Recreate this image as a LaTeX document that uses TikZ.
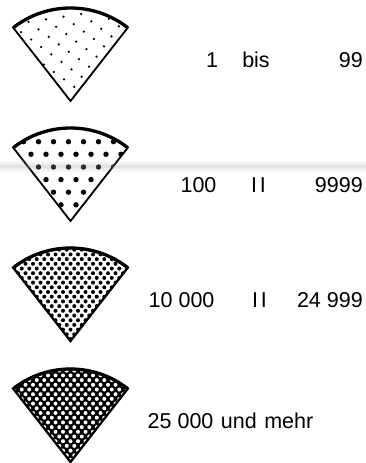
\documentclass[tikz,border=0pt]{standalone}
\usepackage{fontspec}
\setmainfont{Liberation Sans}
\begin{document}
\begin{tikzpicture}[x=1pt,y=-1pt,
  fan/.style={insert path={(70.5,#1) -- ++(232:93) arc[start angle=232,end angle=308,radius=93] -- cycle}},
  rim/.style={insert path={(70.5,#1) ++(232:93) arc[start angle=232,end angle=308,radius=93]}},
  side/.style={line width=1.8pt, line join=miter},
  rimline/.style={line width=3.3pt},
  lbl/.style={font=\fontsize{21.5}{25}\selectfont, inner sep=0pt}]
\useasboundingbox (0,0) rectangle (366,463);

% fan 1: sparse small dots
\begin{scope}
\clip[fan=101];
\foreach \i in {-12,...,12}{\foreach \j in {-12,...,12}{
  \fill ({46+10.1*\i-7.45*\j},{19.3+7.45*\i+10.1*\j}) circle[radius=1.25];}}
\end{scope}
\draw[side, fan=101];
\draw[rimline, rim=101];

% fan 2: coarse big dots
\begin{scope}
\clip[fan=221];
\foreach \y in {141.7,167,192.2}{\foreach \c in {-1,...,7}{
  \fill ({38.5+15*\c},\y) circle[radius=2.7];}}
\foreach \y in {154.3,179.6,204.8}{\foreach \c in {-1,...,7}{
  \fill ({31+15*\c},\y) circle[radius=2.7];}}
\end{scope}
\draw[side, fan=221];
\draw[rimline, rim=221];

% fan 3: dense dots
\begin{scope}
\clip[fan=341];
\foreach \r in {0,...,21}{\foreach \c in {-11,...,11}{
  \pgfmathsetmacro\xx{70.5+7.5*\c+3.75*mod(\r,2)}
  \fill (\xx,{339-4.7*\r}) circle[radius=2];}}
\end{scope}
\draw[side, line width=2.3pt, fan=341];
\draw[rimline, rim=341];

% fan 4: black with white dots
\fill[fan=462];
\begin{scope}
\clip[fan=462];
\foreach \r in {0,...,21}{\foreach \c in {-11,...,11}{
  \pgfmathsetmacro\xx{70.5+7.5*\c+3.75*mod(\r,2)}
  \fill[white] (\xx,{460-4.7*\r}) circle[radius=2];}}
\end{scope}
\draw[side, line width=2.3pt, fan=462];
\draw[rimline, rim=462];

% scan band
\foreach \k in {-5,...,5}{
  \pgfmathsetmacro\op{0.32*(1-abs(\k)/6)}
  \fill[gray!75!white, opacity=\op] (0,{166+\k-0.5}) rectangle (366,{166+\k+0.5});}

% labels
\node[lbl, anchor=base] (a1) at (212,67) {1};
\node[lbl, anchor=base] (a2) at (256,67) {bis};
\node[lbl, anchor=base east] (a3) at (363,67) {99};
\node[lbl, anchor=base] (b1) at (198.5,192) {100};
\node[lbl, anchor=base] (b2) at (258.5,192) {I\kern3pt I};
\node[lbl, anchor=base east] (b3) at (363,192) {9999};
\node[lbl, anchor=base west] (c1) at (148.5,307) {10 000};
\node[lbl, anchor=base] (c2) at (259.5,307) {I\kern3pt I};
\node[lbl, anchor=base east] (c3) at (363,307) {24 999};
\node[lbl, anchor=base west] (d1) at (147.5,428) {25 000 \hspace{1.5pt}und \hspace{1.5pt}mehr};
\end{tikzpicture}
\end{document}
